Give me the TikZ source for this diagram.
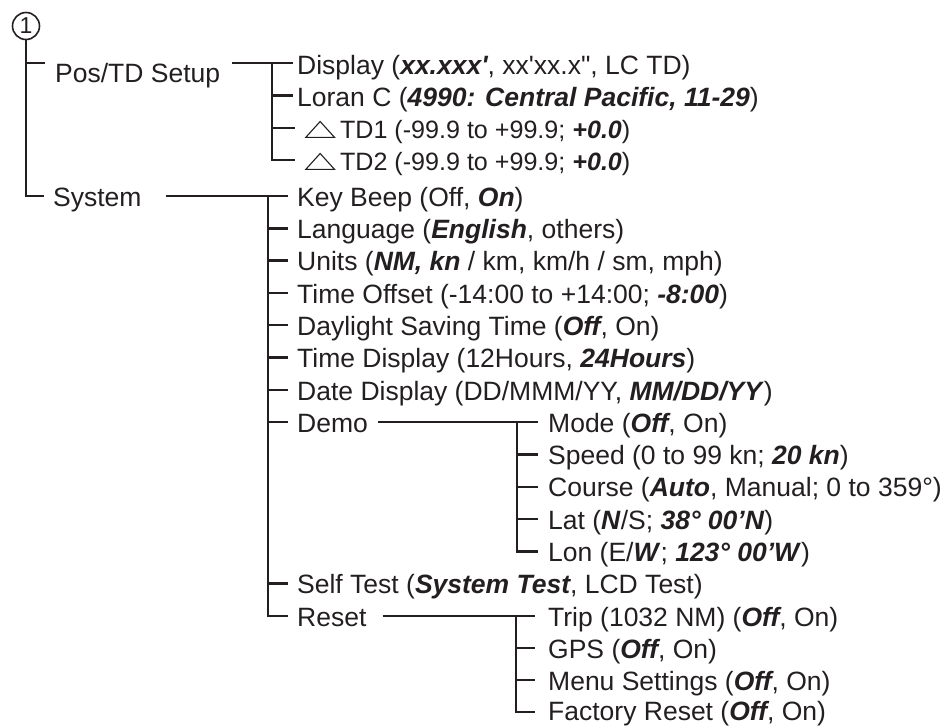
\documentclass[tikz,border=0pt]{standalone}
\usepackage{fontspec}
\setmainfont{Liberation Sans}
\definecolor{ink}{HTML}{231F20}
\newcommand{\bi}[1]{\textit{\bfseries #1}}
\newcommand{\tri}{\tikz[baseline=0pt]\draw[ink,line width=1.1pt,line join=miter] (0.6pt,0.6pt) -- (29.4pt,0.6pt) -- (15pt,16.5pt) -- cycle;\hspace{5pt}}
\begin{document}
\begin{tikzpicture}[x=1pt,y=-1pt,
  item/.style={anchor=base west,inner sep=0pt,text=ink,font=\fontsize{26.5}{30}\selectfont},
  smallitem/.style={item,font=\fontsize{25.1}{30}\selectfont},
  wire/.style={draw=ink,line width=2.4pt},
  numcirc/.style={circle,draw=ink,line width=1.6pt,minimum size=27pt,inner sep=0pt,text=ink,font=\fontsize{23}{26}\selectfont}]
\useasboundingbox (0,0) rectangle (948,726);

% root
\node[numcirc] (root) at (26,26) {1};
\node[item] (pos) at (55,82) {Pos/TD Setup};
\node[item] (sys) at (53,206.5) {System};

% Pos/TD children
\node[item] (disp) at (297,74) {Display (\bi{xx.xxx\textquotesingle}, xx\textquotesingle xx.x\textquotedbl, LC TD)};
\node[item] (loran) at (297,106) {Loran C (\bi{4990: Central Pacific, 11-29})};
\node[smallitem] (tda) at (305,138) {\tri TD1 (-99.9 to +99.9; \bi{+0.0})};
\node[smallitem] (tdb) at (305,170) {\tri TD2 (-99.9 to +99.9; \bi{+0.0})};

% System children
\node[item] (kb) at (297,206.5) {Key Beep (Off, \bi{On})};
\node[item] (lang) at (297,238.5) {Language (\bi{English}, others)};
\node[item] (units) at (297,270.8) {Units (\bi{NM, kn} / km, km/h / sm, mph)};
\node[item] (toff) at (297,303.1) {Time Offset (-14:00 to +14:00; \bi{-8:00})};
\node[item] (dst) at (297,335.4) {Daylight Saving Time (\bi{Off}, On)};
\node[item] (tdisp) at (297,367.7) {Time Display (12Hours, \bi{24Hours})};
\node[item] (ddisp) at (297,400) {Date Display (DD/MMM/YY, \bi{MM/DD/YY})};
\node[item] (demo) at (297,432.3) {Demo};
\node[item] (self) at (297,593.8) {Self Test (\bi{System Test}, LCD Test)};
\node[item] (reset) at (297,626) {Reset};

% Demo children
\node[item] (mode) at (548,432.3) {Mode (\bi{Off}, On)};
\node[item] (speed) at (548,464.6) {Speed (0 to 99 kn; \bi{20 kn})};
\node[item] (course) at (548,496.9) {Course (\bi{Auto}, Manual; 0 to 359°)};
\node[item] (lat) at (548,529.2) {Lat (\bi{N}/S; \bi{38° 00’N})};
\node[item] (lon) at (548,561.5) {Lon (E/\bi{W}; \bi{123° 00’W})};

% Reset children
\node[item] (trip) at (548,626) {Trip (1032 NM) (\bi{Off}, On)};
\node[item] (gps) at (548,658.2) {GPS (\bi{Off}, On)};
\node[item] (menu) at (548,690.2) {Menu Settings (\bi{Off}, On)};
\node[item] (fact) at (548,720.3) {Factory Reset (\bi{Off}, On)};

% main spine
\draw[wire] (root.south) -- (26,196) -- (44,196);
\draw[wire] (26,63) -- (45,63);

% Pos/TD group
\draw[wire] ([xshift=12pt]pos.base east |- 0,63) -- ([xshift=-4pt]disp.base west |- 0,63);
\draw[wire] (272,63) -- (272,160) -- ([xshift=-10pt]tdb.base west |- 0,160);
\draw[wire] (272,95.5) -- ([xshift=-4pt]loran.base west |- 0,95.5);
\draw[wire] (272,128) -- ([xshift=-10pt]tda.base west |- 0,128);

% System group
\draw[wire] ([xshift=24pt]sys.base east |- 0,196) -- ([xshift=-9pt]kb.base west |- 0,196);
\draw[wire] (268,196) -- (268,616) -- ([xshift=-9pt]reset.base west |- 0,616);
\foreach \n/\y in {lang/228.3,units/260.6,toff/292.9,dst/325.2,tdisp/357.5,ddisp/389.8,demo/422.1,self/583.6}
  \draw[wire] (268,\y) -- ([xshift=-9pt]\n.base west |- 0,\y);

% Demo group
\draw[wire] ([xshift=10pt]demo.base east |- 0,422.1) -- ([xshift=-10pt]mode.base west |- 0,422.1);
\draw[wire] (517,422.1) -- (517,551.3) -- ([xshift=-10pt]lon.base west |- 0,551.3);
\foreach \n/\y in {speed/454.4,course/486.7,lat/519}
  \draw[wire] (517,\y) -- ([xshift=-10pt]\n.base west |- 0,\y);

% Reset group
\draw[wire] ([xshift=16pt]reset.base east |- 0,616) -- ([xshift=-13pt]trip.base west |- 0,616);
\draw[wire] (516,616) -- (516,712) -- ([xshift=-13pt]fact.base west |- 0,712);
\foreach \n/\y in {gps/648.2,menu/680.2}
  \draw[wire] (516,\y) -- ([xshift=-13pt]\n.base west |- 0,\y);
\end{tikzpicture}
\end{document}
